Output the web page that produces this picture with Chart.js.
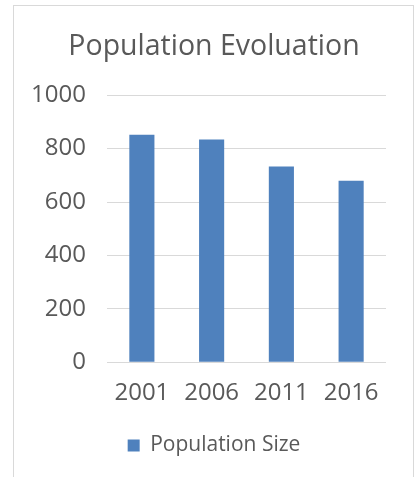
<!DOCTYPE html>
<html>
<head>
<meta charset="utf-8">
<script src="https://cdn.jsdelivr.net/npm/chart.js@4"></script>
<style>
  html, body { margin: 0; padding: 0; background: #fff; overflow: hidden; }
  #frame {
    position: absolute; left: 13px; top: 5px; width: 401px; height: 490px;
    border: 1px solid #d9d9d9; box-sizing: border-box;
  }
  canvas { position: absolute; left: 0; top: 0; }
</style>
</head>
<body>
<div id="frame"></div>
<canvas id="myChart" width="417" height="477"></canvas>
<script>
const years = ["2001", "2006", "2011", "2016"];
const populationSize = [852, 834, 733, 680];
const yTicks = [0, 200, 400, 600, 800, 1000];

const textColor = "#595959";
const fontFamily = "'Open Sans', 'Liberation Sans', sans-serif";

const ctx = document.getElementById("myChart").getContext("2d");
new Chart(ctx, {
  type: "bar",
  data: {
    labels: years,
    datasets: [
      {
        label: "Population Size",
        backgroundColor: "#4f81bd",
        borderWidth: 0,
        data: populationSize,
        yAxisID: "y",
        categoryPercentage: 1,
        barPercentage: 0.36,
      },
    ],
  },
  options: {
    responsive: false,
    animation: false,
    layout: { padding: { left: 13, right: 2, top: 0, bottom: 11 } },
    plugins: {
      title: {
        display: true,
        text: "Population Evoluation",
        color: textColor,
        font: { family: fontFamily, size: 28.5, weight: "normal" },
        padding: { top: 30, bottom: 31 },
      },
      legend: {
        position: "bottom",
        labels: {
          color: textColor,
          font: { family: fontFamily, size: 21 },
          boxWidth: 12,
          boxHeight: 12,
          padding: 10,
        },
      },
      tooltip: { enabled: false },
    },
    scales: {
      x: {
        grid: { display: false, drawTicks: false },
        border: { display: false },
        ticks: {
          color: textColor,
          font: { family: fontFamily, size: 24 },
          padding: 17,
        },
      },
      y: {
        min: 0,
        max: 1000,
        afterBuildTicks: (scale) => {
          scale.ticks = yTicks.map((v) => ({ value: v }));
        },
        afterFit: (scale) => {
          scale.width = 94;
        },
        grid: { color: "#d9d9d9", drawTicks: false },
        border: { display: false },
        ticks: {
          color: textColor,
          font: { family: fontFamily, size: 24 },
          padding: 21,
          callback: (value) => String(value),
        },
      },
      // empty axis that keeps space free on the right of the plot
      yRight: {
        position: "right",
        display: true,
        grid: { display: false, drawTicks: false },
        border: { display: false },
        ticks: { display: false },
        afterFit: (scale) => {
          scale.width = 29;
        },
      },
    },
  },
});
</script>
</body>
</html>
